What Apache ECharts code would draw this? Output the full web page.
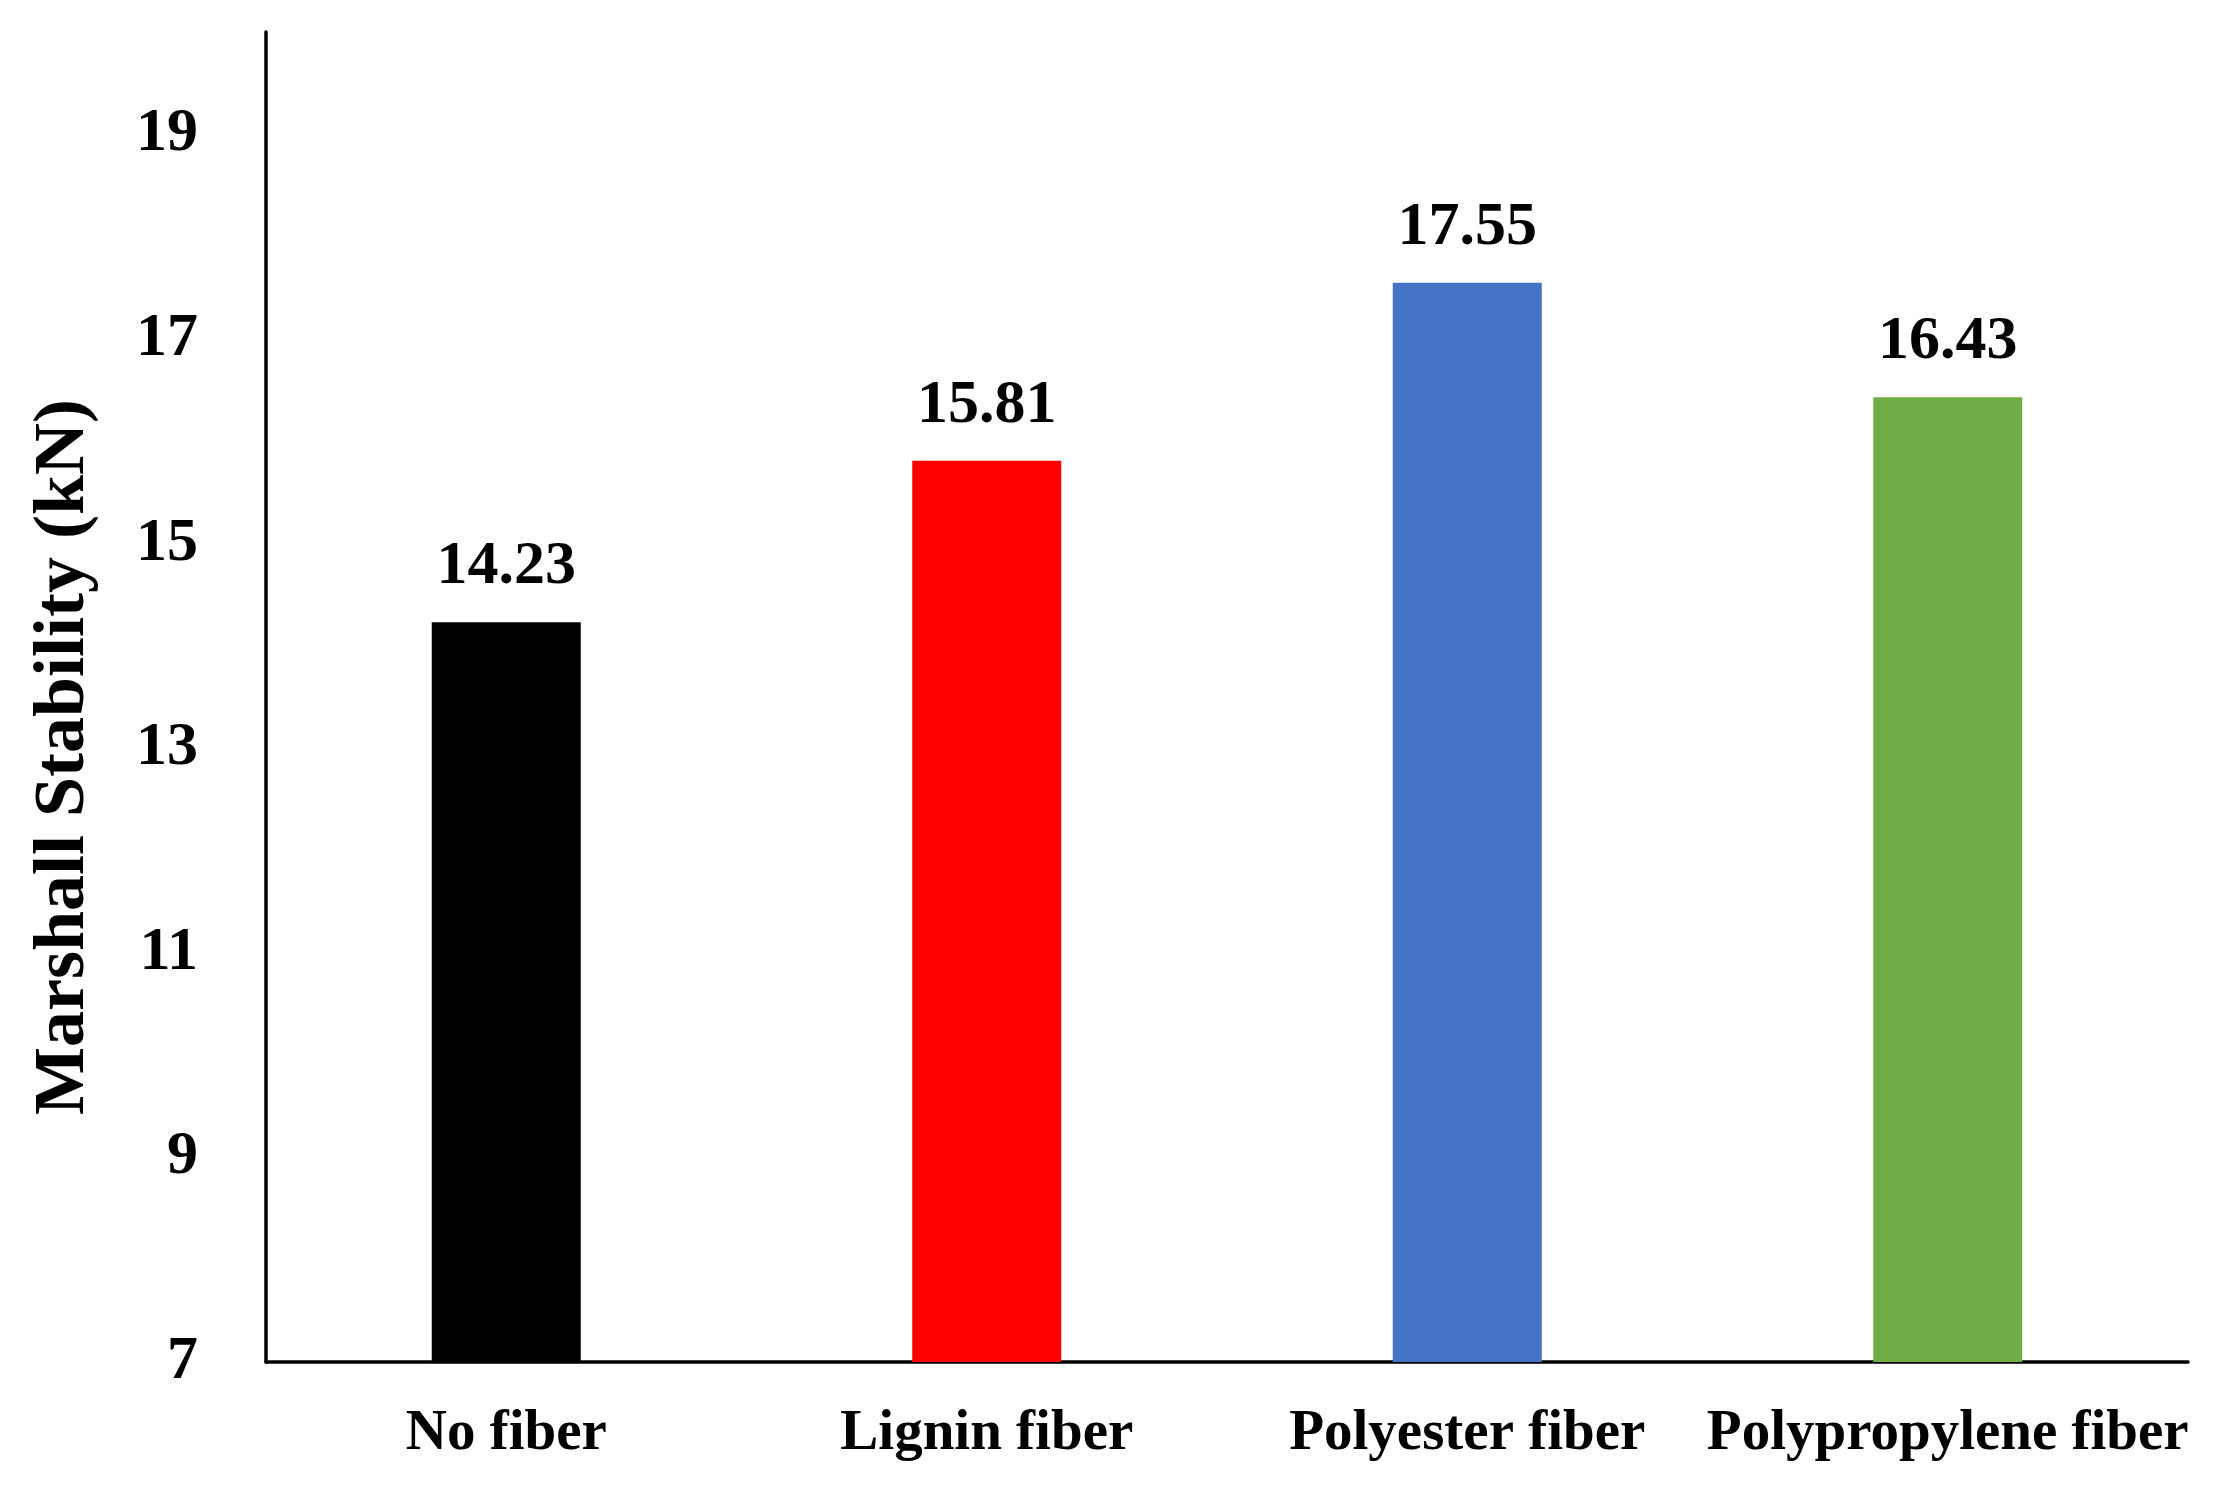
<!DOCTYPE html>
<html>
<head>
<meta charset="utf-8">
<script src="https://cdn.jsdelivr.net/npm/echarts@6/dist/echarts.min.js"></script>
<style>
html,body{margin:0;padding:0;background:#fff;}
#chart{width:2218px;height:1486px;}
</style>
</head>
<body>
<div id="chart"></div>
<script>
const categories = ['No fiber', 'Lignin fiber', 'Polyester fiber', 'Polypropylene fiber'];
const stability = [14.23, 15.81, 17.55, 16.43];
const barColors = ['#000000', '#FF0000', '#4472C4', '#70AD47'];
const yTitle = 'Marshall Stability (kN)';

const FONT = '"Liberation Serif", "Times New Roman", serif';
const chart = echarts.init(document.getElementById('chart'));
chart.setOption({
  animation: false,
  backgroundColor: '#ffffff',
  grid: { left: 266, right: 30, top: 32, bottom: 124, containLabel: false },
  xAxis: {
    type: 'category',
    data: categories,
    axisLine: { lineStyle: { color: '#000', width: 3.5 } },
    axisTick: { show: false },
    axisLabel: { interval: 0, hideOverlap: false, margin: 44, color: '#000', fontFamily: FONT, fontWeight: 'bold', fontSize: 57 }
  },
  yAxis: {
    type: 'value',
    min: 7, max: 20, interval: 2,
    axisLine: { show: true, lineStyle: { color: '#000', width: 3.5 } },
    axisTick: { show: false },
    splitLine: { show: false },
    axisLabel: {
      margin: 68, color: '#000', fontFamily: FONT, fontWeight: 'bold', fontSize: 62,
      showMaxLabel: false,
      formatter: v => (v === 20 ? '' : String(v))
    }
  },
  graphic: [{
    type: 'text',
    x: 64, y: 757,
    rotation: Math.PI / 2,
    style: {
      text: yTitle,
      fill: '#000',
      font: 'bold 72px ' + FONT,
      textAlign: 'center',
      textVerticalAlign: 'middle'
    }
  }],
  series: [{
    type: 'bar',
    barWidth: 149,
    data: stability.map((v, i) => ({ value: v, itemStyle: { color: barColors[i] } })),
    label: {
      show: true, position: 'top', distance: 24,
      color: '#000', fontFamily: FONT, fontWeight: 'bold', fontSize: 62,
      formatter: p => p.value.toFixed(2)
    }
  }]
});
</script>
</body>
</html>
